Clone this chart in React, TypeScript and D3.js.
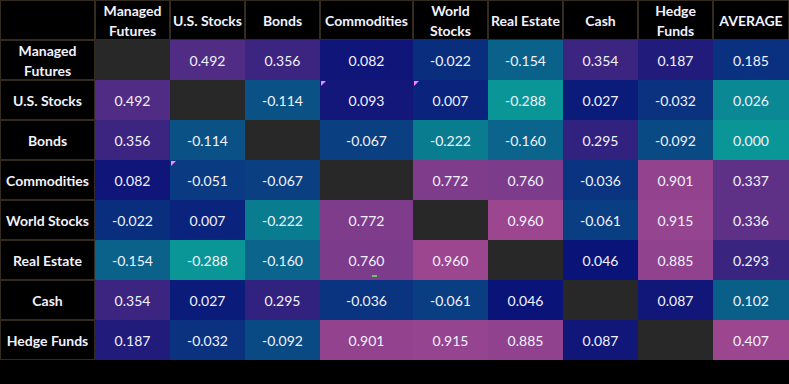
import React from 'react';
import * as d3 from 'd3';

const assets = ['Managed Futures', 'U.S. Stocks', 'Bonds', 'Commodities', 'World Stocks', 'Real Estate', 'Cash', 'Hedge Funds'];
const colLabels = ['Managed\nFutures', 'U.S. Stocks', 'Bonds', 'Commodities', 'World\nStocks', 'Real Estate', 'Cash', 'Hedge\nFunds', 'AVERAGE'];
const rowLabels = ['Managed\nFutures', 'U.S. Stocks', 'Bonds', 'Commodities', 'World Stocks', 'Real Estate', 'Cash', 'Hedge Funds'];

// correlation rows (null = diagonal)
const managedFutures = [null, 0.492, 0.356, 0.082, -0.022, -0.154, 0.354, 0.187];
const usStocks = [0.492, null, -0.114, 0.093, 0.007, -0.288, 0.027, -0.032];
const bonds = [0.356, -0.114, null, -0.067, -0.222, -0.160, 0.295, -0.092];
const commodities = [0.082, -0.051, -0.067, null, 0.772, 0.760, -0.036, 0.901];
const worldStocks = [-0.022, 0.007, -0.222, 0.772, null, 0.960, -0.061, 0.915];
const realEstate = [-0.154, -0.288, -0.160, 0.760, 0.960, null, 0.046, 0.885];
const cash = [0.354, 0.027, 0.295, -0.036, -0.061, 0.046, null, 0.087];
const hedgeFunds = [0.187, -0.032, -0.092, 0.901, 0.915, 0.885, 0.087, null];
const average = [0.185, 0.026, 0.000, 0.337, 0.336, 0.293, 0.102, 0.407];

const matrix: (number | null)[][] = [managedFutures, usStocks, bonds, commodities, worldStocks, realEstate, cash, hedgeFunds];

// cells with a comment marker [row, col]
const commentCells = [[1, 3], [1, 4], [3, 1]];

const width = 789;
const height = 384;
const labelW = 95;
const colWidths = [75, 75, 75, 93, 75, 75, 75, 75, 76];
const headerH = 40;
const rowH = 40;

const LOW = '#0a9696';
const MID = '#0a1478';
const HIGH = '#9c4690';
const GRID = '#342a1e';
const TEXT = '#f2f2ff';
const FONT = 'Lato, "Open Sans", sans-serif';
const FS = 14;

const colX = d3.cumsum([labelW, ...colWidths]);

const scaleFor = (vals: number[]) =>
  d3.scaleLinear<string>()
    .domain([d3.min(vals)!, d3.median(vals)!, d3.max(vals)!])
    .range([LOW, MID, HIGH])
    .interpolate(d3.interpolateRgb);

const allVals = matrix.flat().filter((v): v is number => v !== null);
const color = scaleFor(allVals);
const avgColor = scaleFor(average);
const fmt = d3.formatLocale({ decimal: '.', thousands: ',', grouping: [3], currency: ['', ''], minus: '-' }).format('.3f');

const y = d3.scaleBand<number>()
  .domain(d3.range(assets.length))
  .range([headerH, headerH + rowH * assets.length]);

const MultiLine = ({ x, cy, text }: { x: number; cy: number; text: string }) => {
  const lines = text.split('\n');
  const lh = 20;
  const start = cy - ((lines.length - 1) * lh) / 2;
  return (
    <text x={x} textAnchor="middle" fill={TEXT} fontFamily={FONT} fontSize={FS} fontWeight={700}>
      {lines.map((l, i) => (
        <tspan key={i} x={x} y={start + i * lh} dy="0.35em">{l}</tspan>
      ))}
    </text>
  );
};

export default function App() {
  const bodyBottom = y.range()[1];
  return (
    <div style={{ position: 'fixed', left: 0, top: 0, width, height, background: '#000' }}>
      <svg width={width} height={height} style={{ display: 'block', background: '#000' }}>
        {/* header grid */}
        {colLabels.map((_, j) => (
          <rect key={'h' + j} x={colX[j] + 0.5} y={0.5} width={colWidths[j] - 1} height={headerH - 1}
            fill="none" stroke={GRID} />
        ))}
        <rect x={0.5} y={0.5} width={labelW - 1} height={headerH - 1} fill="none" stroke={GRID} />
        {rowLabels.map((_, i) => (
          <rect key={'r' + i} x={0.5} y={y(i)! + 0.5} width={labelW - 1} height={rowH - 1}
            fill="none" stroke={GRID} />
        ))}

        {/* cells */}
        {matrix.map((row, i) =>
          row.map((v, j) => (
            <rect key={`c${i}-${j}`} x={colX[j]} y={y(i)!} width={colWidths[j]} height={rowH}
              fill={v === null ? '#282828' : color(v)} />
          ))
        )}
        {average.map((v, i) => (
          <rect key={'a' + i} x={colX[8]} y={y(i)!} width={colWidths[8]} height={rowH} fill={avgColor(v)} />
        ))}

        {/* comment markers */}
        {commentCells.map(([i, j]) => {
          const x0 = colX[j] + 1;
          const y0 = y(i)! + 1;
          return <path key={`m${i}-${j}`} d={`M${x0},${y0}h5l-5,5z`} fill="#ff80ff" />;
        })}
        <rect x={colX[3] + 52} y={y(5)! + 35} width={5} height={2} fill="#6cc46c" />

        {/* values */}
        {matrix.map((row, i) =>
          row.map((v, j) =>
            v === null ? null : (
              <text key={`t${i}-${j}`} x={colX[j] + colWidths[j] / 2} y={y(i)! + rowH / 2 + 1} dy="0.35em"
                textAnchor="middle" fill={TEXT} fontFamily={FONT} fontSize={FS}>{fmt(v)}</text>
            )
          )
        )}
        {average.map((v, i) => (
          <text key={'at' + i} x={colX[8] + colWidths[8] / 2} y={y(i)! + rowH / 2 + 1} dy="0.35em"
            textAnchor="middle" fill={TEXT} fontFamily={FONT} fontSize={FS}>{fmt(v)}</text>
        ))}

        {/* labels */}
        {colLabels.map((l, j) => (
          <MultiLine key={'hl' + j} x={colX[j] + colWidths[j] / 2} cy={headerH / 2 + 1} text={l} />
        ))}
        {rowLabels.map((l, i) => (
          <MultiLine key={'rl' + i} x={labelW / 2} cy={y(i)! + rowH / 2 + 1.5} text={l} />
        ))}
        <line x1={0} x2={labelW} y1={bodyBottom - 0.5} y2={bodyBottom - 0.5} stroke={GRID} />
      </svg>
    </div>
  );
}
